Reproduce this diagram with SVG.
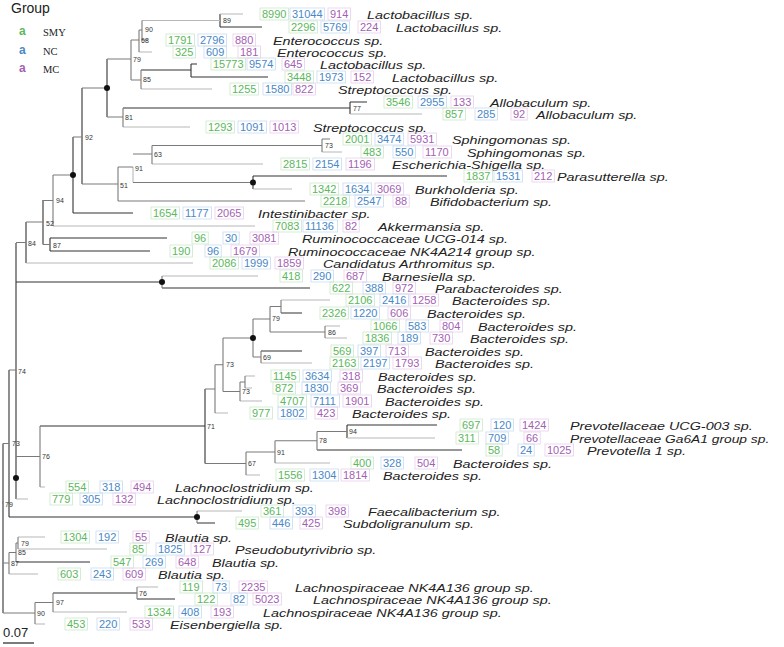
<svg xmlns="http://www.w3.org/2000/svg" width="784" height="647" viewBox="0 0 784 647">
<style>
.e{fill:none;stroke:#7a7a7a;stroke-width:1.1}
.d{stroke:#333}
.l{stroke:#b8b8b8}
.bs{font-family:"Liberation Sans",Arial,sans-serif;font-size:7px;fill:#333}
.n{font-family:"Liberation Sans",Arial,sans-serif;font-size:11px}
.g{fill:#5cb85c}.b{fill:#4a88c7}.p{fill:#a35fb3}
.rg{fill:none;stroke:#cde8cd;stroke-width:0.8}
.rb{fill:none;stroke:#c9dbef;stroke-width:0.8}
.rp{fill:none;stroke:#e6d0eb;stroke-width:0.8}
.nm{font-family:"Liberation Sans",Arial,sans-serif;font-size:11.5px;font-style:italic;fill:#222}
.dot{fill:#111}
</style>
<rect width="784" height="647" fill="#fff"/>
<g id="legend">
<text x="11" y="13" font-family="Liberation Sans,Arial,sans-serif" font-size="14" fill="#222">Group</text>
<text x="19" y="35" font-family="Liberation Sans,Arial,sans-serif" font-size="12" font-weight="bold" fill="#5cb85c">a</text>
<text x="43" y="36" font-family="Liberation Serif,Times New Roman,serif" font-size="10.5" fill="#222">SMY</text>
<text x="19" y="54" font-family="Liberation Sans,Arial,sans-serif" font-size="12" font-weight="bold" fill="#4a88c7">a</text>
<text x="43" y="55" font-family="Liberation Serif,Times New Roman,serif" font-size="10.5" fill="#222">NC</text>
<text x="19" y="72" font-family="Liberation Sans,Arial,sans-serif" font-size="12" font-weight="bold" fill="#a35fb3">a</text>
<text x="43" y="73" font-family="Liberation Serif,Times New Roman,serif" font-size="10.5" fill="#222">MC</text>
</g>
<g id="connectors">
<path class="e d" d="M220 14V27M220 27H262M191 64V77M141 70H191M191 64H197M191 77H268M123 108H350M350 102V114M350 102H367M253 176V189M253 176H447M82 88V184M73 137V213M73 213H133M43 200V244.5M50 238V251M50 238H167M50 251H150M3 443.5V613M9 370V517M16 243V499M16 282H162M162 288H310M281 313H302M261 351H302M40 426H205M205 389V463.5M347 425V438M347 425H437M317 450H462M9 517H197M197 523H215M16 562H90M53 593H137M137 599H175M107 59V117M26 222V263"/>
<path class="e l" d="M220 14H243M142 20.5H220M139 52H152M141 89H212M350 114H422M123 127H190M322 152H342M152 164H263M253 189H292M53 226H255M26 263H193M162 276H258M281 300H330M325 326H340M325 338H347M261 363H312M245 376H255M245 388H252M240 401H262M215 413H228M347 438H435M275 463H330M246 475H260M16 499H28M197 511H242M18 549H107M9 574H38M137 587H158M53 612H127M35 624H45M18 537H45M40 487H45M133 167V182.5"/>
<path class="e" d="M142 20.5V40M142 40H148M139 30V52M139 30H142M131 40V80M131 40H139M131 80H141M141 70V89M107 59H131M107 117H123M123 108V127M82 88H107M82 137H73M82 184H118M118 167V201M118 201H305M118 167H133M133 182.5H253M152 145.5V164M133 154H152M152 145.5H322M322 139V152M322 139H330M73 175H53M53 175V226M53 200.5H43M43 222H26M43 244.5H50M26 242.5H16M162 276V288M281 300V313M270 306.5H281M270 306.5V332M270 332H325M325 326V338M261 351V363M253 357H261M253 319V357M253 319H270M245 376V388M240 382H245M240 382V401M223 391.5H240M223 338V391.5M223 338H253M215 364.75H223M215 364.75V413M205 389H215M317 431.5H347M317 431.5V450M275 440.75H317M275 440.75V463M246 452H275M246 452V475M205 463.5H246M40 426V487M16 456.5H40M16 370H9M9 443.5H3M197 511V523M18 537V549M16 543H18M16 543V562M9 552.5H16M9 552.5V574M3 563H9M3 503H2M137 587V599M53 593V612M35 602.5H53M35 602.5V624M3 613H35"/>
<circle class="dot" cx="107" cy="88" r="3"/>
<circle class="dot" cx="253" cy="182.5" r="3"/>
<circle class="dot" cx="73" cy="175" r="3"/>
<circle class="dot" cx="162" cy="282" r="3"/>
<circle class="dot" cx="253" cy="338" r="3"/>
<circle class="dot" cx="16" cy="478" r="3"/>
<circle class="dot" cx="197" cy="517" r="3"/>
<path d="M3 643H34" stroke="#333" stroke-width="1.3"/>
</g>
<g id="bootstrap">
<text class="bs" x="223" y="23">89</text>
<text class="bs" x="145" y="32">90</text>
<text class="bs" x="141" y="43">68</text>
<text class="bs" x="133" y="62">79</text>
<text class="bs" x="143" y="82">85</text>
<text class="bs" x="353" y="111">77</text>
<text class="bs" x="125" y="120">81</text>
<text class="bs" x="85" y="140">92</text>
<text class="bs" x="325" y="148">73</text>
<text class="bs" x="154" y="157">63</text>
<text class="bs" x="135" y="171">91</text>
<text class="bs" x="120" y="188">51</text>
<text class="bs" x="56" y="203">94</text>
<text class="bs" x="46" y="226">52</text>
<text class="bs" x="28" y="246">84</text>
<text class="bs" x="53" y="248">87</text>
<text class="bs" x="272" y="321">79</text>
<text class="bs" x="328" y="335">86</text>
<text class="bs" x="263" y="360">69</text>
<text class="bs" x="226" y="367">73</text>
<text class="bs" x="18" y="374">74</text>
<text class="bs" x="242" y="394">73</text>
<text class="bs" x="207" y="429">71</text>
<text class="bs" x="349" y="434">94</text>
<text class="bs" x="319" y="443">78</text>
<text class="bs" x="12" y="446">73</text>
<text class="bs" x="277" y="455">91</text>
<text class="bs" x="42" y="459">76</text>
<text class="bs" x="248" y="466">67</text>
<text class="bs" x="5" y="507">79</text>
<text class="bs" x="21" y="546">79</text>
<text class="bs" x="18" y="555">85</text>
<text class="bs" x="11" y="566">87</text>
<text class="bs" x="139" y="596">76</text>
<text class="bs" x="56" y="605">97</text>
<text class="bs" x="37" y="616">90</text>
</g>
<text x="3" y="637" font-family="Liberation Sans,Arial,sans-serif" font-size="13" fill="#222">0.07</text>
<g id="leaf1"><rect class="rg" x="260" y="8" width="28.5" height="12"/><text class="n g" x="262" y="18">8990</text><rect class="rb" x="290" y="8" width="34.6" height="12"/><text class="n b" x="292" y="18">31044</text><rect class="rp" x="328" y="8" width="22.4" height="12"/><text class="n p" x="330" y="18">914</text><text class="nm" transform="translate(367 18.5) scale(1.25 1)">Lactobacillus sp.</text></g>
<g id="leaf2"><rect class="rg" x="289" y="21" width="28.5" height="12"/><text class="n g" x="291" y="31">2296</text><rect class="rb" x="321" y="21" width="28.5" height="12"/><text class="n b" x="323" y="31">5769</text><rect class="rp" x="358" y="21" width="22.4" height="12"/><text class="n p" x="360" y="31">224</text><text class="nm" transform="translate(396 31.5) scale(1.25 1)">Lactobacillus sp.</text></g>
<g id="leaf3"><rect class="rg" x="166" y="34" width="28.5" height="12"/><text class="n g" x="168" y="44">1791</text><rect class="rb" x="198" y="34" width="28.5" height="12"/><text class="n b" x="200" y="44">2796</text><rect class="rp" x="233" y="34" width="22.4" height="12"/><text class="n p" x="235" y="44">880</text><text class="nm" transform="translate(273 44.5) scale(1.25 1)">Enterococcus sp.</text></g>
<g id="leaf4"><rect class="rg" x="173" y="46" width="22.4" height="12"/><text class="n g" x="175" y="56">325</text><rect class="rb" x="204" y="46" width="22.4" height="12"/><text class="n b" x="206" y="56">609</text><rect class="rp" x="238" y="46" width="22.4" height="12"/><text class="n p" x="240" y="56">181</text><text class="nm" transform="translate(277 56.5) scale(1.25 1)">Enterococcus sp.</text></g>
<g id="leaf5"><rect class="rg" x="211" y="58" width="34.6" height="12"/><text class="n g" x="213" y="68">15773</text><rect class="rb" x="247" y="58" width="28.5" height="12"/><text class="n b" x="249" y="68">9574</text><rect class="rp" x="282" y="58" width="22.4" height="12"/><text class="n p" x="284" y="68">645</text><text class="nm" transform="translate(320 68.5) scale(1.25 1)">Lactobacillus sp.</text></g>
<g id="leaf6"><rect class="rg" x="285" y="71" width="28.5" height="12"/><text class="n g" x="287" y="81">3448</text><rect class="rb" x="317" y="71" width="28.5" height="12"/><text class="n b" x="319" y="81">1973</text><rect class="rp" x="351" y="71" width="22.4" height="12"/><text class="n p" x="353" y="81">152</text><text class="nm" transform="translate(392 81.5) scale(1.25 1)">Lactobacillus sp.</text></g>
<g id="leaf7"><rect class="rg" x="230" y="83" width="28.5" height="12"/><text class="n g" x="232" y="93">1255</text><rect class="rb" x="263" y="83" width="28.5" height="12"/><text class="n b" x="265" y="93">1580</text><rect class="rp" x="293" y="83" width="22.4" height="12"/><text class="n p" x="295" y="93">822</text><text class="nm" transform="translate(338 93.5) scale(1.25 1)">Streptococcus sp.</text></g>
<g id="leaf8"><rect class="rg" x="384" y="96" width="28.5" height="12"/><text class="n g" x="386" y="106">3546</text><rect class="rb" x="418" y="96" width="28.5" height="12"/><text class="n b" x="420" y="106">2955</text><rect class="rp" x="451" y="96" width="22.4" height="12"/><text class="n p" x="453" y="106">133</text><text class="nm" transform="translate(490 106.5) scale(1.25 1)">Allobaculum sp.</text></g>
<g id="leaf9"><rect class="rg" x="443" y="108" width="22.4" height="12"/><text class="n g" x="445" y="118">857</text><rect class="rb" x="475" y="108" width="22.4" height="12"/><text class="n b" x="477" y="118">285</text><rect class="rp" x="511" y="108" width="16.2" height="12"/><text class="n p" x="513" y="118">92</text><text class="nm" transform="translate(536 118.5) scale(1.25 1)">Allobaculum sp.</text></g>
<g id="leaf10"><rect class="rg" x="206" y="121" width="28.5" height="12"/><text class="n g" x="208" y="131">1293</text><rect class="rb" x="238" y="121" width="28.5" height="12"/><text class="n b" x="240" y="131">1091</text><rect class="rp" x="270" y="121" width="28.5" height="12"/><text class="n p" x="272" y="131">1013</text><text class="nm" transform="translate(313 131.5) scale(1.25 1)">Streptococcus sp.</text></g>
<g id="leaf11"><rect class="rg" x="343" y="133" width="28.5" height="12"/><text class="n g" x="345" y="143">2001</text><rect class="rb" x="375" y="133" width="28.5" height="12"/><text class="n b" x="377" y="143">3474</text><rect class="rp" x="408" y="133" width="28.5" height="12"/><text class="n p" x="410" y="143">5931</text><text class="nm" transform="translate(452 143.5) scale(1.25 1)">Sphingomonas sp.</text></g>
<g id="leaf12"><rect class="rg" x="361" y="146" width="22.4" height="12"/><text class="n g" x="363" y="156">483</text><rect class="rb" x="393" y="146" width="22.4" height="12"/><text class="n b" x="395" y="156">550</text><rect class="rp" x="423" y="146" width="28.5" height="12"/><text class="n p" x="425" y="156">1170</text><text class="nm" transform="translate(467 156.5) scale(1.25 1)">Sphingomonas sp.</text></g>
<g id="leaf13"><rect class="rg" x="281" y="158" width="28.5" height="12"/><text class="n g" x="283" y="168">2815</text><rect class="rb" x="313" y="158" width="28.5" height="12"/><text class="n b" x="315" y="168">2154</text><rect class="rp" x="346" y="158" width="28.5" height="12"/><text class="n p" x="348" y="168">1196</text><text class="nm" transform="translate(392 168.5) scale(1.25 1)">Escherichia-Shigella sp.</text></g>
<g id="leaf14"><rect class="rg" x="464" y="170" width="28.5" height="12"/><text class="n g" x="466" y="180">1837</text><rect class="rb" x="494" y="170" width="28.5" height="12"/><text class="n b" x="496" y="180">1531</text><rect class="rp" x="532" y="170" width="22.4" height="12"/><text class="n p" x="534" y="180">212</text><text class="nm" transform="translate(557 180.5) scale(1.25 1)">Parasutterella sp.</text></g>
<g id="leaf15"><rect class="rg" x="310" y="183" width="28.5" height="12"/><text class="n g" x="312" y="193">1342</text><rect class="rb" x="343" y="183" width="28.5" height="12"/><text class="n b" x="345" y="193">1634</text><rect class="rp" x="375" y="183" width="28.5" height="12"/><text class="n p" x="377" y="193">3069</text><text class="nm" transform="translate(415 193.5) scale(1.25 1)">Burkholderia sp.</text></g>
<g id="leaf16"><rect class="rg" x="321" y="195" width="28.5" height="12"/><text class="n g" x="323" y="205">2218</text><rect class="rb" x="355" y="195" width="28.5" height="12"/><text class="n b" x="357" y="205">2547</text><rect class="rp" x="393" y="195" width="16.2" height="12"/><text class="n p" x="395" y="205">88</text><text class="nm" transform="translate(430 205.5) scale(1.25 1)">Bifidobacterium sp.</text></g>
<g id="leaf17"><rect class="rg" x="151" y="207" width="28.5" height="12"/><text class="n g" x="153" y="217">1654</text><rect class="rb" x="183" y="207" width="28.5" height="12"/><text class="n b" x="185" y="217">1177</text><rect class="rp" x="215" y="207" width="28.5" height="12"/><text class="n p" x="217" y="217">2065</text><text class="nm" transform="translate(258 217.5) scale(1.25 1)">Intestinibacter sp.</text></g>
<g id="leaf18"><rect class="rg" x="273" y="220" width="28.5" height="12"/><text class="n g" x="275" y="230">7083</text><rect class="rb" x="303" y="220" width="34.6" height="12"/><text class="n b" x="305" y="230">11136</text><rect class="rp" x="343" y="220" width="16.2" height="12"/><text class="n p" x="345" y="230">82</text><text class="nm" transform="translate(378 230.5) scale(1.25 1)">Akkermansia sp.</text></g>
<g id="leaf19"><rect class="rg" x="192" y="232" width="16.2" height="12"/><text class="n g" x="194" y="242">96</text><rect class="rb" x="223" y="232" width="16.2" height="12"/><text class="n b" x="225" y="242">30</text><rect class="rp" x="250" y="232" width="28.5" height="12"/><text class="n p" x="252" y="242">3081</text><text class="nm" transform="translate(302 242.5) scale(1.25 1)">Ruminococcaceae UCG-014 sp.</text></g>
<g id="leaf20"><rect class="rg" x="170" y="245" width="22.4" height="12"/><text class="n g" x="172" y="255">190</text><rect class="rb" x="205" y="245" width="16.2" height="12"/><text class="n b" x="207" y="255">96</text><rect class="rp" x="231" y="245" width="28.5" height="12"/><text class="n p" x="233" y="255">1679</text><text class="nm" transform="translate(288 255.5) scale(1.25 1)">Ruminococcaceae NK4A214 group sp.</text></g>
<g id="leaf21"><rect class="rg" x="210" y="257" width="28.5" height="12"/><text class="n g" x="212" y="267">2086</text><rect class="rb" x="242" y="257" width="28.5" height="12"/><text class="n b" x="244" y="267">1999</text><rect class="rp" x="275" y="257" width="28.5" height="12"/><text class="n p" x="277" y="267">1859</text><text class="nm" transform="translate(323 267.5) scale(1.25 1)">Candidatus Arthromitus sp.</text></g>
<g id="leaf22"><rect class="rg" x="280" y="270" width="22.4" height="12"/><text class="n g" x="282" y="280">418</text><rect class="rb" x="311" y="270" width="22.4" height="12"/><text class="n b" x="313" y="280">290</text><rect class="rp" x="344" y="270" width="22.4" height="12"/><text class="n p" x="346" y="280">687</text><text class="nm" transform="translate(382 280.5) scale(1.25 1)">Barnesiella sp.</text></g>
<g id="leaf23"><rect class="rg" x="330" y="282" width="22.4" height="12"/><text class="n g" x="332" y="292">622</text><rect class="rb" x="363" y="282" width="22.4" height="12"/><text class="n b" x="365" y="292">388</text><rect class="rp" x="393" y="282" width="22.4" height="12"/><text class="n p" x="395" y="292">972</text><text class="nm" transform="translate(435 292.5) scale(1.25 1)">Parabacteroides sp.</text></g>
<g id="leaf24"><rect class="rg" x="346" y="294" width="28.5" height="12"/><text class="n g" x="348" y="304">2106</text><rect class="rb" x="380" y="294" width="28.5" height="12"/><text class="n b" x="382" y="304">2416</text><rect class="rp" x="410" y="294" width="28.5" height="12"/><text class="n p" x="412" y="304">1258</text><text class="nm" transform="translate(452 304.5) scale(1.25 1)">Bacteroides sp.</text></g>
<g id="leaf25"><rect class="rg" x="320" y="307" width="28.5" height="12"/><text class="n g" x="322" y="317">2326</text><rect class="rb" x="351" y="307" width="28.5" height="12"/><text class="n b" x="353" y="317">1220</text><rect class="rp" x="388" y="307" width="22.4" height="12"/><text class="n p" x="390" y="317">606</text><text class="nm" transform="translate(427 317.5) scale(1.25 1)">Bacteroides sp.</text></g>
<g id="leaf26"><rect class="rg" x="371" y="320" width="28.5" height="12"/><text class="n g" x="373" y="330">1066</text><rect class="rb" x="406" y="320" width="22.4" height="12"/><text class="n b" x="408" y="330">583</text><rect class="rp" x="440" y="320" width="22.4" height="12"/><text class="n p" x="442" y="330">804</text><text class="nm" transform="translate(478 330.5) scale(1.25 1)">Bacteroides sp.</text></g>
<g id="leaf27"><rect class="rg" x="363" y="332" width="28.5" height="12"/><text class="n g" x="365" y="342">1836</text><rect class="rb" x="398" y="332" width="22.4" height="12"/><text class="n b" x="400" y="342">189</text><rect class="rp" x="430" y="332" width="22.4" height="12"/><text class="n p" x="432" y="342">730</text><text class="nm" transform="translate(470 342.5) scale(1.25 1)">Bacteroides sp.</text></g>
<g id="leaf28"><rect class="rg" x="331" y="345" width="22.4" height="12"/><text class="n g" x="333" y="355">569</text><rect class="rb" x="358" y="345" width="22.4" height="12"/><text class="n b" x="360" y="355">397</text><rect class="rp" x="386" y="345" width="22.4" height="12"/><text class="n p" x="388" y="355">713</text><text class="nm" transform="translate(425 355.5) scale(1.25 1)">Bacteroides sp.</text></g>
<g id="leaf29"><rect class="rg" x="330" y="357" width="28.5" height="12"/><text class="n g" x="332" y="367">2163</text><rect class="rb" x="361" y="357" width="28.5" height="12"/><text class="n b" x="363" y="367">2197</text><rect class="rp" x="393" y="357" width="28.5" height="12"/><text class="n p" x="395" y="367">1793</text><text class="nm" transform="translate(435 367.5) scale(1.25 1)">Bacteroides sp.</text></g>
<g id="leaf30"><rect class="rg" x="271" y="370" width="28.5" height="12"/><text class="n g" x="273" y="380">1145</text><rect class="rb" x="303" y="370" width="28.5" height="12"/><text class="n b" x="305" y="380">3634</text><rect class="rp" x="340" y="370" width="22.4" height="12"/><text class="n p" x="342" y="380">318</text><text class="nm" transform="translate(378 380.5) scale(1.25 1)">Bacteroides sp.</text></g>
<g id="leaf31"><rect class="rg" x="273" y="382" width="22.4" height="12"/><text class="n g" x="275" y="392">872</text><rect class="rb" x="302" y="382" width="28.5" height="12"/><text class="n b" x="304" y="392">1830</text><rect class="rp" x="338" y="382" width="22.4" height="12"/><text class="n p" x="340" y="392">369</text><text class="nm" transform="translate(377 392.5) scale(1.25 1)">Bacteroides sp.</text></g>
<g id="leaf32"><rect class="rg" x="278" y="395" width="28.5" height="12"/><text class="n g" x="280" y="405">4707</text><rect class="rb" x="311" y="395" width="28.5" height="12"/><text class="n b" x="313" y="405">7111</text><rect class="rp" x="343" y="395" width="28.5" height="12"/><text class="n p" x="345" y="405">1901</text><text class="nm" transform="translate(385 405.5) scale(1.25 1)">Bacteroides sp.</text></g>
<g id="leaf33"><rect class="rg" x="250" y="407" width="22.4" height="12"/><text class="n g" x="252" y="417">977</text><rect class="rb" x="278" y="407" width="28.5" height="12"/><text class="n b" x="280" y="417">1802</text><rect class="rp" x="315" y="407" width="22.4" height="12"/><text class="n p" x="317" y="417">423</text><text class="nm" transform="translate(352 417.5) scale(1.25 1)">Bacteroides sp.</text></g>
<g id="leaf34"><rect class="rg" x="460" y="419" width="22.4" height="12"/><text class="n g" x="462" y="429">697</text><rect class="rb" x="491" y="419" width="22.4" height="12"/><text class="n b" x="493" y="429">120</text><rect class="rp" x="520" y="419" width="28.5" height="12"/><text class="n p" x="522" y="429">1424</text><text class="nm" transform="translate(570 429.5) scale(1.25 1)">Prevotellaceae UCG-003 sp.</text></g>
<g id="leaf35"><rect class="rg" x="456" y="432" width="22.4" height="12"/><text class="n g" x="458" y="442">311</text><rect class="rb" x="486" y="432" width="22.4" height="12"/><text class="n b" x="488" y="442">709</text><rect class="rp" x="524" y="432" width="16.2" height="12"/><text class="n p" x="526" y="442">66</text><text class="nm" transform="translate(570 442.5) scale(1.2 1)">Prevotellaceae Ga6A1 group sp.</text></g>
<g id="leaf36"><rect class="rg" x="486" y="444" width="16.2" height="12"/><text class="n g" x="488" y="454">58</text><rect class="rb" x="518" y="444" width="16.2" height="12"/><text class="n b" x="520" y="454">24</text><rect class="rp" x="545" y="444" width="28.5" height="12"/><text class="n p" x="547" y="454">1025</text><text class="nm" transform="translate(587 454.5) scale(1.25 1)">Prevotella 1 sp.</text></g>
<g id="leaf37"><rect class="rg" x="351" y="457" width="22.4" height="12"/><text class="n g" x="353" y="467">400</text><rect class="rb" x="381" y="457" width="22.4" height="12"/><text class="n b" x="383" y="467">328</text><rect class="rp" x="415" y="457" width="22.4" height="12"/><text class="n p" x="417" y="467">504</text><text class="nm" transform="translate(453 467.5) scale(1.25 1)">Bacteroides sp.</text></g>
<g id="leaf38"><rect class="rg" x="276" y="469" width="28.5" height="12"/><text class="n g" x="278" y="479">1556</text><rect class="rb" x="310" y="469" width="28.5" height="12"/><text class="n b" x="312" y="479">1304</text><rect class="rp" x="341" y="469" width="28.5" height="12"/><text class="n p" x="343" y="479">1814</text><text class="nm" transform="translate(383 479.5) scale(1.25 1)">Bacteroides sp.</text></g>
<g id="leaf39"><rect class="rg" x="66" y="481" width="22.4" height="12"/><text class="n g" x="68" y="491">554</text><rect class="rb" x="100" y="481" width="22.4" height="12"/><text class="n b" x="102" y="491">318</text><rect class="rp" x="131" y="481" width="22.4" height="12"/><text class="n p" x="133" y="491">494</text><text class="nm" transform="translate(175 491.5) scale(1.25 1)">Lachnoclostridium sp.</text></g>
<g id="leaf40"><rect class="rg" x="50" y="493" width="22.4" height="12"/><text class="n g" x="52" y="503">779</text><rect class="rb" x="80" y="493" width="22.4" height="12"/><text class="n b" x="82" y="503">305</text><rect class="rp" x="113" y="493" width="22.4" height="12"/><text class="n p" x="115" y="503">132</text><text class="nm" transform="translate(157 503.5) scale(1.25 1)">Lachnoclostridium sp.</text></g>
<g id="leaf41"><rect class="rg" x="261" y="505" width="22.4" height="12"/><text class="n g" x="263" y="515">361</text><rect class="rb" x="293" y="505" width="22.4" height="12"/><text class="n b" x="295" y="515">393</text><rect class="rp" x="326" y="505" width="22.4" height="12"/><text class="n p" x="328" y="515">398</text><text class="nm" transform="translate(368 515.5) scale(1.25 1)">Faecalibacterium sp.</text></g>
<g id="leaf42"><rect class="rg" x="236" y="517" width="22.4" height="12"/><text class="n g" x="238" y="527">495</text><rect class="rb" x="270" y="517" width="22.4" height="12"/><text class="n b" x="272" y="527">446</text><rect class="rp" x="300" y="517" width="22.4" height="12"/><text class="n p" x="302" y="527">425</text><text class="nm" transform="translate(343 527.5) scale(1.25 1)">Subdoligranulum sp.</text></g>
<g id="leaf43"><rect class="rg" x="61" y="531" width="28.5" height="12"/><text class="n g" x="63" y="541">1304</text><rect class="rb" x="96" y="531" width="22.4" height="12"/><text class="n b" x="98" y="541">192</text><rect class="rp" x="133" y="531" width="16.2" height="12"/><text class="n p" x="135" y="541">55</text><text class="nm" transform="translate(165 541.5) scale(1.25 1)">Blautia sp.</text></g>
<g id="leaf44"><rect class="rg" x="130" y="543" width="16.2" height="12"/><text class="n g" x="132" y="553">85</text><rect class="rb" x="156" y="543" width="28.5" height="12"/><text class="n b" x="158" y="553">1825</text><rect class="rp" x="191" y="543" width="22.4" height="12"/><text class="n p" x="193" y="553">127</text><text class="nm" transform="translate(235 553.5) scale(1.25 1)">Pseudobutyrivibrio sp.</text></g>
<g id="leaf45"><rect class="rg" x="111" y="556" width="22.4" height="12"/><text class="n g" x="113" y="566">547</text><rect class="rb" x="143" y="556" width="22.4" height="12"/><text class="n b" x="145" y="566">269</text><rect class="rp" x="176" y="556" width="22.4" height="12"/><text class="n p" x="178" y="566">648</text><text class="nm" transform="translate(212 566.5) scale(1.25 1)">Blautia sp.</text></g>
<g id="leaf46"><rect class="rg" x="58" y="568" width="22.4" height="12"/><text class="n g" x="60" y="578">603</text><rect class="rb" x="91" y="568" width="22.4" height="12"/><text class="n b" x="93" y="578">243</text><rect class="rp" x="123" y="568" width="22.4" height="12"/><text class="n p" x="125" y="578">609</text><text class="nm" transform="translate(158 578.5) scale(1.25 1)">Blautia sp.</text></g>
<g id="leaf47"><rect class="rg" x="180" y="581" width="22.4" height="12"/><text class="n g" x="182" y="591">119</text><rect class="rb" x="213" y="581" width="16.2" height="12"/><text class="n b" x="215" y="591">73</text><rect class="rp" x="239" y="581" width="28.5" height="12"/><text class="n p" x="241" y="591">2235</text><text class="nm" transform="translate(295 591.5) scale(1.25 1)">Lachnospiraceae NK4A136 group sp.</text></g>
<g id="leaf48"><rect class="rg" x="195" y="593" width="22.4" height="12"/><text class="n g" x="197" y="603">122</text><rect class="rb" x="231" y="593" width="16.2" height="12"/><text class="n b" x="233" y="603">82</text><rect class="rp" x="253" y="593" width="28.5" height="12"/><text class="n p" x="255" y="603">5023</text><text class="nm" transform="translate(313 603.5) scale(1.25 1)">Lachnospiraceae NK4A136 group sp.</text></g>
<g id="leaf49"><rect class="rg" x="145" y="606" width="28.5" height="12"/><text class="n g" x="147" y="616">1334</text><rect class="rb" x="179" y="606" width="22.4" height="12"/><text class="n b" x="181" y="616">408</text><rect class="rp" x="211" y="606" width="22.4" height="12"/><text class="n p" x="213" y="616">193</text><text class="nm" transform="translate(263 616.5) scale(1.25 1)">Lachnospiraceae NK4A136 group sp.</text></g>
<g id="leaf50"><rect class="rg" x="65" y="618" width="22.4" height="12"/><text class="n g" x="67" y="628">453</text><rect class="rb" x="97" y="618" width="22.4" height="12"/><text class="n b" x="99" y="628">220</text><rect class="rp" x="130" y="618" width="22.4" height="12"/><text class="n p" x="132" y="628">533</text><text class="nm" transform="translate(170 628.5) scale(1.25 1)">Eisenbergiella sp.</text></g>
</svg>
